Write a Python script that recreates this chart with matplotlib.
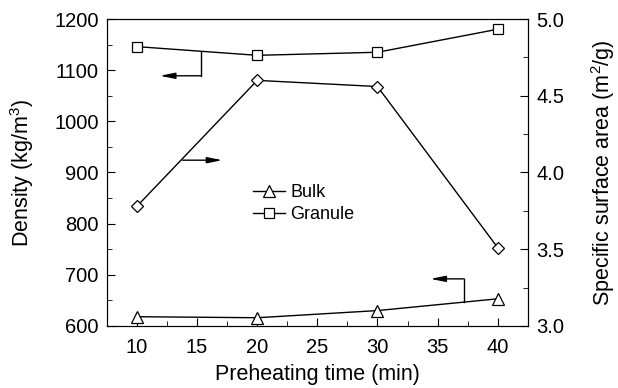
import matplotlib
matplotlib.use('Agg')
import matplotlib.pyplot as plt
from matplotlib.ticker import MultipleLocator

plt.rcParams['font.family'] = ['Liberation Sans', 'DejaVu Sans']
plt.rcParams['mathtext.fontset'] = 'custom'
plt.rcParams['mathtext.rm'] = 'Liberation Sans'

time_min = [10, 20, 30, 40]
bulk_density = [618, 616, 630, 653]
granule_density = [1146, 1129, 1135, 1180]
surface_area = [3.78, 4.60, 4.56, 3.51]

fig, ax = plt.subplots(figsize=(6.18, 3.88), dpi=100)
fig.subplots_adjust(left=0.173, right=0.854, top=0.951, bottom=0.16)
ax2 = ax.twinx()

ax.plot(time_min, bulk_density, color='black', lw=1, marker='^', ms=8,
        mfc='white', mec='black', mew=0.9, label='Bulk')
ax.plot(time_min, granule_density, color='black', lw=1, marker='s', ms=6.5,
        mfc='white', mec='black', mew=0.9, label='Granule')
ax2.plot(time_min, surface_area, color='black', lw=1, marker='D', ms=6,
         mfc='white', mec='black', mew=0.9)

ax.set_xlim(7.5, 42.5)
ax.set_ylim(600, 1200)
ax2.set_ylim(3.0, 5.0)
ax.xaxis.set_major_locator(MultipleLocator(5))
ax.xaxis.set_minor_locator(MultipleLocator(2.5))
ax.yaxis.set_major_locator(MultipleLocator(100))
ax.yaxis.set_minor_locator(MultipleLocator(50))
ax2.yaxis.set_major_locator(MultipleLocator(0.5))
ax2.yaxis.set_minor_locator(MultipleLocator(0.25))
ax2.yaxis.set_major_formatter(plt.FormatStrFormatter('%.1f'))

for a in (ax, ax2):
    a.tick_params(which='both', direction='in', labelsize=14.5, pad=6)
    a.tick_params(which='major', length=6)
    a.tick_params(which='minor', length=3.5)
ax.tick_params(axis='x', pad=9)
ax.tick_params(axis='y', which='both', right=False)

ax.set_xlabel('Preheating time (min)', fontsize=15.5, labelpad=5)
ax.set_ylabel('Density (kg/m$^3$)', fontsize=15.5, labelpad=13)
ax2.set_ylabel('Specific surface area (m$^2$/g)', fontsize=15.5, labelpad=18)

# indicator arrows
arw = dict(arrowstyle='-|>,head_length=0.9,head_width=0.18', color='black',
           lw=1, mutation_scale=10, shrinkA=0, shrinkB=0)
ax.plot([15.3, 15.3], [1136, 1089], color='black', lw=1)
ax.annotate('', xy=(11.9, 1089), xytext=(15.3, 1089), arrowprops=arw)
ax2.annotate('', xy=(17.1, 4.08), xytext=(13.8, 4.08), arrowprops=arw)
ax.plot([37.2, 37.2], [647, 692], color='black', lw=1)
ax.annotate('', xy=(34.4, 692), xytext=(37.2, 692), arrowprops=arw)

ax.legend(loc='upper left', bbox_to_anchor=(0.346, 0.463), frameon=False, fontsize=13,
          handlelength=1.8, handletextpad=0.3, labelspacing=0.3,
          borderaxespad=0, borderpad=0)

fig.savefig('out.png', dpi=100)
